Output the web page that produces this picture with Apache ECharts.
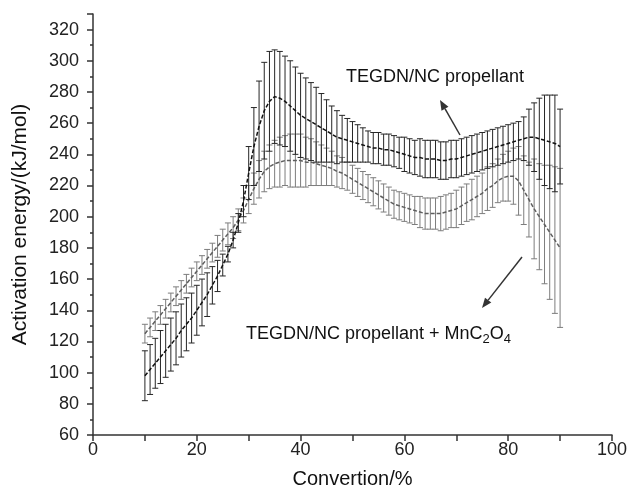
<!DOCTYPE html>
<html>
<head>
<meta charset="utf-8">
<script src="https://cdn.jsdelivr.net/npm/echarts@6/dist/echarts.min.js"></script>
<style>
html, body { margin: 0; padding: 0; background: #fff; }
#chart { width: 630px; height: 494px; }
</style>
</head>
<body>
<div id="chart"></div>
<script>
// conversion (%) for every measured point
const conversion = [10, 11, 12, 13, 14, 15, 16, 17, 18, 19, 20, 21, 22, 23, 24, 25, 26, 27, 28, 29,
  30, 31, 32, 33, 34, 35, 36, 37, 38, 39, 40, 41, 42, 43, 44, 45, 46, 47, 48, 49,
  50, 51, 52, 53, 54, 55, 56, 57, 58, 59, 60, 61, 62, 63, 64, 65, 66, 67, 68, 69,
  70, 71, 72, 73, 74, 75, 76, 77, 78, 79, 80, 81, 82, 83, 84, 85, 86, 87, 88, 89, 90];

// TEGDN/NC propellant: activation energy and error
const pureMean = [98, 102, 106, 110, 114, 118, 122, 127, 131, 135, 140, 145, 150, 156, 162, 169, 176, 185, 196, 210,
  228, 245, 258, 268, 274, 277, 276, 274, 271, 268, 265, 263, 261, 259, 257, 255, 253, 251, 250, 249,
  248, 247, 246, 245, 244, 244, 243, 243, 242, 241, 240, 239, 238, 238, 237, 237, 237, 236, 236, 237,
  237, 238, 239, 240, 241, 242, 243, 244, 245, 246, 247, 248, 249, 250, 251, 251, 250, 249, 248, 247, 245];
const pureErr = [16, 16, 16, 17, 17, 17, 17, 17, 17, 16, 16, 15, 14, 12, 10, 7, 5, 5, 6, 10,
  17, 25, 29, 31, 32, 30, 30, 29, 29, 28, 27, 26, 25, 24, 22, 20, 18, 17, 15, 14,
  13, 12, 11, 10, 10, 10, 10, 10, 10, 10, 11, 11, 11, 12, 12, 12, 12, 12, 12, 12,
  12, 12, 12, 12, 12, 12, 12, 12, 12, 12, 12, 12, 12, 14, 18, 22, 26, 29, 30, 31, 24];

// TEGDN/NC propellant + MnC2O4
const mnMean = [125, 129, 133, 137, 141, 145, 149, 153, 157, 161, 165, 169, 173, 177, 181, 185, 189, 193, 198, 204,
  211, 218, 224, 229, 232, 234, 235, 236, 236, 236, 236, 235, 235, 234, 233, 232, 231, 229, 228, 226,
  224, 222, 220, 218, 216, 214, 212, 210, 208, 207, 206, 205, 204, 203, 202, 202, 202, 202, 203, 204,
  205, 207, 209, 211, 213, 215, 218, 220, 223, 225, 226, 226, 223, 217, 211, 205, 200, 195, 190, 185, 180];
const mnErr = [6, 6, 6, 6, 6, 6, 6, 6, 6, 6, 6, 6, 6, 6, 7, 7, 7, 7, 7, 8,
  9, 10, 12, 13, 14, 15, 16, 16, 17, 17, 17, 16, 15, 14, 13, 12, 11, 10, 10, 9,
  9, 9, 9, 9, 9, 9, 9, 9, 9, 9, 9, 9, 9, 10, 10, 10, 10, 11, 11, 11,
  12, 12, 12, 13, 13, 13, 14, 14, 14, 15, 16, 18, 22, 22, 24, 32, 34, 38, 43, 47, 51];

const yTicks = [60, 80, 100, 120, 140, 160, 180, 200, 220, 240, 260, 280, 300, 320];

const FONT = 'Liberation Sans';

const chart = echarts.init(document.getElementById('chart'));

// vertical bar with caps at both ends
function errorBar(color) {
  return function (params, api) {
    const x = api.value(0);
    const lo = api.coord([x, api.value(1)]);
    const hi = api.coord([x, api.value(2)]);
    const cap = 3;
    const style = { stroke: color, lineWidth: 1 };
    return {
      type: 'group',
      children: [
        { type: 'line', shape: { x1: lo[0], y1: lo[1], x2: hi[0], y2: hi[1] }, style: style },
        { type: 'line', shape: { x1: hi[0] - cap, y1: hi[1], x2: hi[0] + cap, y2: hi[1] }, style: style },
        { type: 'line', shape: { x1: lo[0] - cap, y1: lo[1], x2: lo[0] + cap, y2: lo[1] }, style: style }
      ]
    };
  };
}

function arrow(x1, y1, x2, y2) {
  const a = Math.atan2(y2 - y1, x2 - x1);
  const len = 10, w = 4;
  const bx = x2 - len * Math.cos(a), by = y2 - len * Math.sin(a);
  const px = -Math.sin(a) * w, py = Math.cos(a) * w;
  return [
    { type: 'line', shape: { x1: x1, y1: y1, x2: bx, y2: by }, style: { stroke: '#333', lineWidth: 1.5 } },
    { type: 'polygon', shape: { points: [[x2, y2], [bx + px, by + py], [bx - px, by - py]] }, style: { fill: '#333' } }
  ];
}

const barData = (mean, err) => conversion.map((x, i) => [x, mean[i] - err[i], mean[i] + err[i]]);
const lineData = (mean) => conversion.map((x, i) => [x, mean[i]]);

chart.setOption({
  animation: false,
  grid: { left: 93, right: 17, top: 14, bottom: 56 },
  xAxis: {
    type: 'value',
    min: 0,
    max: 100,
    interval: 20,
    name: 'Convertion/%',
    nameLocation: 'middle',
    nameGap: 34,
    nameTextStyle: { fontFamily: FONT, fontSize: 20, color: '#111' },
    axisLine: { onZero: false, lineStyle: { color: '#333', width: 1.5 } },
    axisTick: { length: 6, lineStyle: { color: '#333', width: 1.5 } },
    minorTick: { show: true, splitNumber: 2, length: 6, lineStyle: { color: '#333', width: 1.5 } },
    splitLine: { show: false },
    axisLabel: { fontFamily: FONT, fontSize: 18, color: '#222', margin: 6 }
  },
  yAxis: {
    type: 'value',
    min: 60,
    max: 330,
    interval: 20,
    name: 'Activation energy/(kJ/mol)',
    nameLocation: 'middle',
    nameGap: 62,
    nameTextStyle: { fontFamily: FONT, fontSize: 21, color: '#111' },
    axisLine: { show: true, onZero: false, lineStyle: { color: '#333', width: 1.5 } },
    axisTick: { show: true, length: 6, lineStyle: { color: '#333', width: 1.5 } },
    minorTick: { show: true, splitNumber: 2, length: 3, lineStyle: { color: '#333', width: 1.5 } },
    splitLine: { show: false },
    axisLabel: {
      fontFamily: FONT, fontSize: 18, color: '#222', margin: 14,
      formatter: (v) => (yTicks.indexOf(v) >= 0 ? String(v) : '')
    }
  },
  series: [
    {
      type: 'custom',
      renderItem: errorBar('#7d7d7d'),
      encode: { x: 0, y: [1, 2] },
      data: barData(mnMean, mnErr),
      z: 1
    },
    {
      type: 'line',
      data: lineData(mnMean),
      showSymbol: false,
      lineStyle: { color: '#5e5e5e', width: 1.5, type: [4, 2] },
      z: 2
    },
    {
      type: 'custom',
      renderItem: errorBar('#262626'),
      encode: { x: 0, y: [1, 2] },
      data: barData(pureMean, pureErr),
      z: 3
    },
    {
      type: 'line',
      data: lineData(pureMean),
      showSymbol: false,
      lineStyle: { color: '#111', width: 1.5, type: [4, 2] },
      z: 4
    }
  ],
  graphic: [
    {
      type: 'text', left: 346, top: 68,
      style: { text: 'TEGDN/NC propellant', fontFamily: FONT, fontSize: 18, fill: '#111' }
    },
    {
      type: 'text', left: 246, top: 322,
      style: {
        text: 'TEGDN/NC propellant + MnC{s|2}O{s|4}',
        fontFamily: FONT, fontSize: 18, fill: '#111', lineHeight: 24,
        rich: { s: { fontFamily: FONT, fontSize: 13, fill: '#111', verticalAlign: 'bottom', lineHeight: 24 } }
      }
    }
  ].concat(arrow(460, 135, 440, 100), arrow(522, 257, 482, 308))
});
</script>
</body>
</html>
